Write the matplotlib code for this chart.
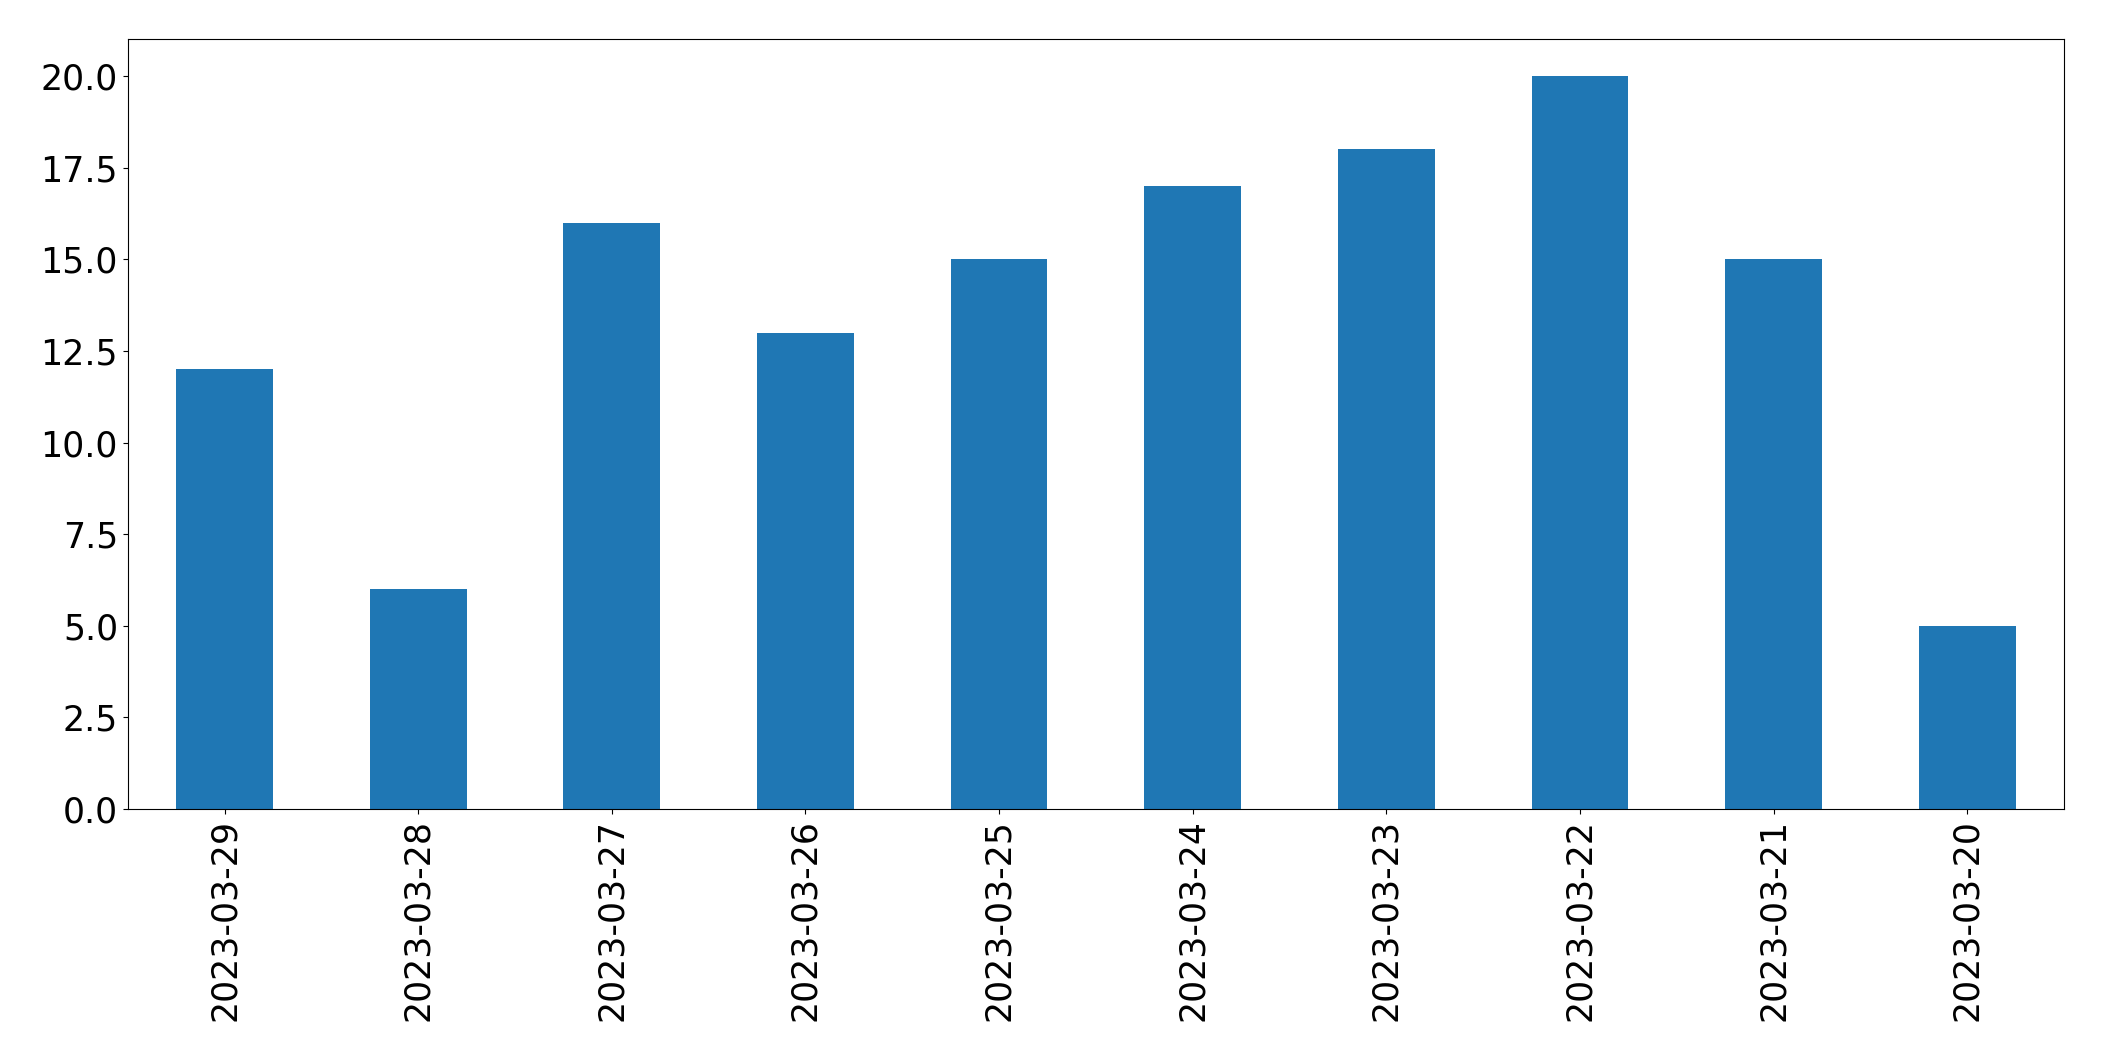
import matplotlib
matplotlib.use("Agg")
import matplotlib.pyplot as plt
import pandas as pd

dates = ['2023-03-29', '2023-03-28', '2023-03-27', '2023-03-26', '2023-03-25',
         '2023-03-24', '2023-03-23', '2023-03-22', '2023-03-21', '2023-03-20']
counts = [12, 6, 16, 13, 15, 17, 18, 20, 15, 5]

s = pd.Series(counts, index=dates)

fig, ax = plt.subplots(figsize=(21.04, 10.61), dpi=100)
s.plot(kind='bar', ax=ax, color='#1f77b4', linewidth=0)
ax.tick_params(axis='both', labelsize=25)
plt.subplots_adjust(left=0.0607, right=0.981, top=0.9628, bottom=0.2375)
plt.savefig('out.png', dpi=100)
plt.close()
